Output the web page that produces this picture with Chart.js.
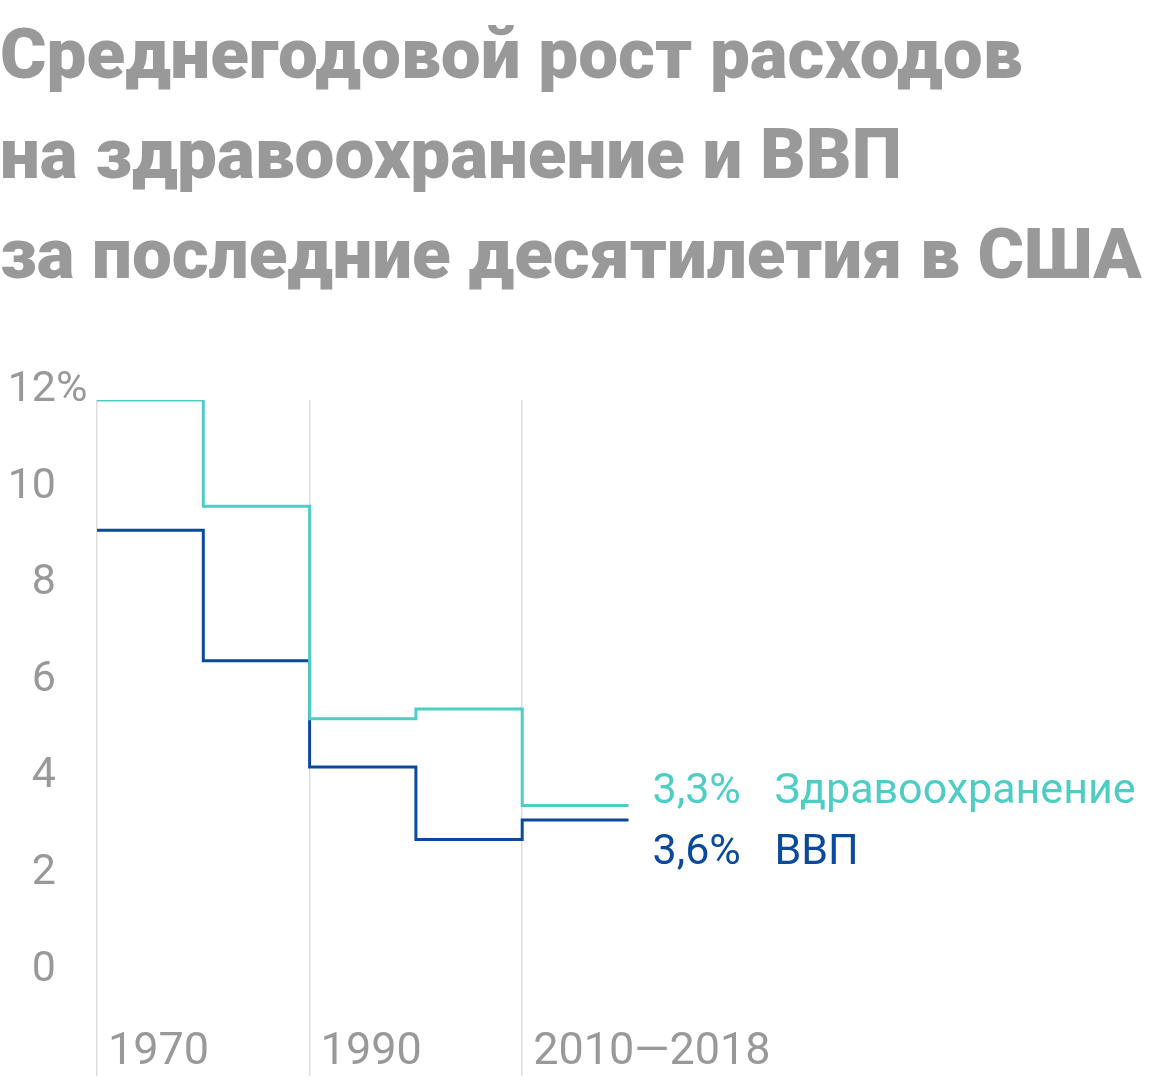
<!DOCTYPE html>
<html><head><meta charset="utf-8">
<script src="https://cdn.jsdelivr.net/npm/chart.js@4"></script>
<style>
html,body{margin:0;padding:0;background:#fff;}
#wrap{position:relative;width:1160px;height:1080px;}
h1{position:absolute;left:0;top:4px;margin:0;font-family:Roboto,"Liberation Sans",sans-serif;font-weight:900;font-size:71px;line-height:100px;color:#999;letter-spacing:0px;}
canvas{position:absolute;left:0;top:0;}
</style></head><body>
<div id="wrap">
<canvas id="c" width="1160" height="1080"></canvas>
<h1>Среднегодовой рост расходов<br>на здравоохранение и ВВП<br>за последние десятилетия в США</h1>
</div>
<script>
const periods = ["1970", "1980", "1990", "2000", "2010—2018"];
const periodLabels = ["1970", "1990", "2010—2018"];
const health = [11.8, 9.6, 5.2, 5.4, 3.4];
const gdp = [9.1, 6.4, 4.2, 2.7, 3.1];
const healthLabel = ["3,3%", "Здравоохранение"];
const gdpLabel = ["3,6%", "ВВП"];
const yTicks = [0, 2, 4, 6, 8, 10, 12];

const toPts = arr => arr.map((v,i)=>({x:i,y:v})).concat([{x:arr.length,y:arr[arr.length-1]}]);
const GRAY = '#999';
const TEAL = '#4ecdc4';
const NAVY = '#0b4a9b';

const labelsPlugin = {
  id:'labels',
  afterDraw(chart){
    const ctx = chart.ctx, xs = chart.scales.x, ys = chart.scales.y;
    ctx.save();
    ctx.font = '43px Roboto, "Liberation Sans", sans-serif';
    ctx.fillStyle = GRAY;
    ctx.textBaseline = 'middle';
    yTicks.forEach(v=>{
      const y = ys.getPixelForValue(v);
      ctx.textAlign='right';
      ctx.fillText(String(v), 56, y);
      if (v===12){ ctx.textAlign='left'; ctx.fillText('%', 56, y); }
    });
    ctx.textAlign='left';
    ctx.textBaseline='alphabetic';
    ctx.font = '45px Roboto, "Liberation Sans", sans-serif';
    periodLabels.forEach((t,i)=>{
      ctx.fillText(t, xs.getPixelForValue(i*2)+11, 1064);
    });
    ctx.font = '43px Roboto, "Liberation Sans", sans-serif';
    const xe = xs.getPixelForValue(periods.length)+24;
    const n = periods.length-1;
    ctx.textBaseline='middle';
    ctx.fillStyle = TEAL;
    const yh = ys.getPixelForValue(health[n]) - 13;
    ctx.fillText(healthLabel[0], xe, yh);
    ctx.fillText(healthLabel[1], xe+122, yh);
    ctx.fillStyle = NAVY;
    const yg = ys.getPixelForValue(gdp[n]) + 33;
    ctx.fillText(gdpLabel[0], xe, yg);
    ctx.fillText(gdpLabel[1], xe+122, yg);
    ctx.restore();
  }
};

new Chart(document.getElementById('c'), {
  type:'line',
  data:{datasets:[
    {data:toPts(health), borderColor:TEAL, borderWidth:3, stepped:'before', pointRadius:0, fill:false},
    {data:toPts(gdp), borderColor:NAVY, borderWidth:3, stepped:'before', pointRadius:0, fill:false}
  ]},
  options:{
    responsive:false, animation:false,
    layout:{padding:{top:400,bottom:4,left:0,right:0}},
    plugins:{legend:{display:false},tooltip:{enabled:false}},
    scales:{
      x:{type:'linear',min:0,max:10,
        ticks:{display:false,stepSize:2},
        border:{display:false},
        grid:{drawTicks:false,lineWidth:1.5,color:c=>(c.tick && c.tick.value<=4)?'#dddddd':'rgba(0,0,0,0)'}},
      y:{min:-2.2,max:11.8,
        ticks:{display:false},
        border:{display:false},
        grid:{display:false},
        afterFit:s=>{s.width=97;}}
    }
  },
  plugins:[labelsPlugin]
});
</script>
</body></html>
